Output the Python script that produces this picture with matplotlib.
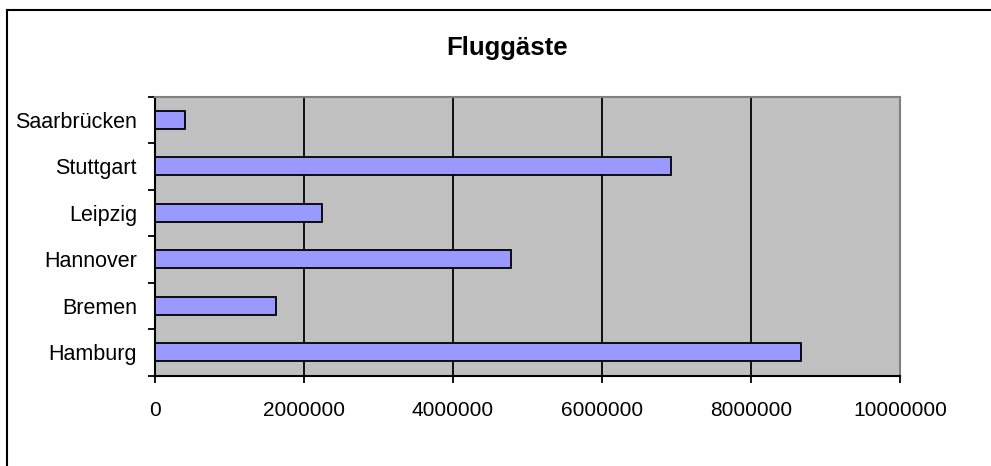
import matplotlib
matplotlib.use('Agg')
import matplotlib.pyplot as plt
from matplotlib.lines import Line2D

plt.rcParams['font.family'] = ['Liberation Sans', 'DejaVu Sans']

# data (bottom to top as drawn)
cities = ['Hamburg', 'Bremen', 'Hannover', 'Leipzig', 'Stuttgart', 'Saarbrücken']
passengers = [8670000, 1620000, 4780000, 2240000, 6920000, 400000]
xticks = [0, 2000000, 4000000, 6000000, 8000000, 10000000]

W, H = 991, 466
fig = plt.figure(figsize=(W/100, H/100), dpi=100)
fig.patch.set_facecolor('white')

# outer chart border (top and left visible)
fig.add_artist(Line2D([7/W, 7/W], [0, 1-10/H], color='black', lw=1.5, transform=fig.transFigure))
fig.add_artist(Line2D([7/W, 1], [1-10/H, 1-10/H], color='black', lw=1.5, transform=fig.transFigure))

ax = fig.add_axes([155/W, (H-375.5)/H, 745/W, 279/H])
ax.set_facecolor('#C0C0C0')

y = range(len(cities))
ax.barh(y, passengers, height=0.38, color='#9999FF', edgecolor='black', lw=1.3, zorder=3)

ax.set_xlim(0, 10000000)
ax.set_ylim(-0.5, len(cities)-0.5)
ax.set_xticks(xticks)
ax.set_xticklabels([str(v) for v in xticks], fontsize=15)
ax.xaxis.grid(True, color='black', lw=1.3, zorder=1)
ax.set_axisbelow(True)

# category ticks at boundaries, labels centered
ax.set_yticks([i - 0.5 for i in range(len(cities)+1)])
ax.set_yticklabels([])
ax.set_yticks(list(y), minor=True)
ax.set_yticklabels(cities, minor=True, fontsize=15.5)
ax.tick_params(axis='y', which='minor', length=0, pad=13)
ax.tick_params(axis='y', which='major', length=5, width=1.3, direction='out')
ax.tick_params(axis='x', length=5, width=1.3, direction='out', pad=13)

for s in ['left', 'bottom']:
    ax.spines[s].set_color('black')
    ax.spines[s].set_linewidth(1.5)
for s in ['top', 'right']:
    ax.spines[s].set_color('#808080')
    ax.spines[s].set_linewidth(1.5)

fig.text(507/W, 1-48/H, 'Fluggäste', ha='center', va='center', fontsize=18.5, fontweight='bold')

fig.savefig('out.png', dpi=100)
